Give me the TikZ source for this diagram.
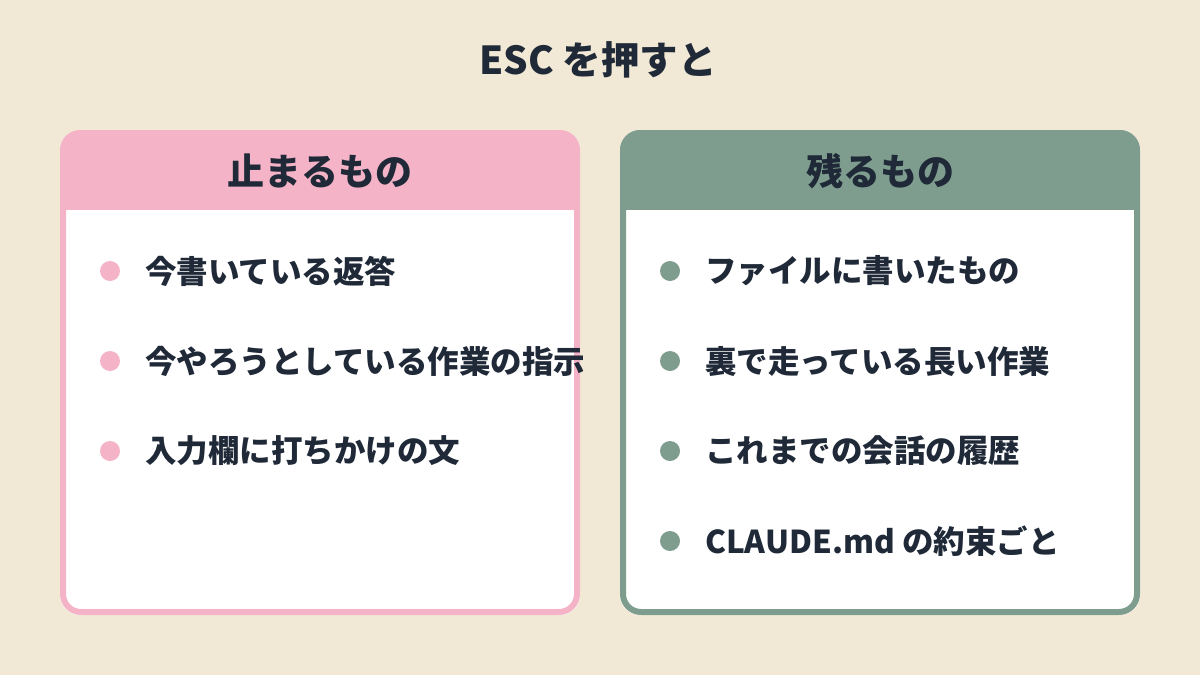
\documentclass[tikz,border=0pt]{standalone}
\usepackage{fontspec}
\setmainfont{Noto Sans CJK JP}
\usetikzlibrary{positioning}
\definecolor{bgcream}{HTML}{F1E9D5}
\definecolor{pinkc}{HTML}{F4B3C7}
\definecolor{greenc}{HTML}{7E9D8F}
\definecolor{inkc}{HTML}{1F2937}
\tikzset{
  item/.style={anchor=west,font=\fontsize{31.5}{31.5}\selectfont\bfseries,text=inkc,inner sep=0pt},
  dot/.style={circle,inner sep=0pt,minimum size=20pt},
  head/.style={font=\fontsize{37}{37}\selectfont\bfseries,text=inkc},
}
\begin{document}
\begin{tikzpicture}[x=1pt,y=-1pt]
  \useasboundingbox[fill=bgcream] (0,0) rectangle (1200,675);
  \node[font=\fontsize{38.5}{38.5}\selectfont\bfseries,text=inkc] (title) at (598,60) {ESC を押すと};

  % left box
  \begin{scope}
    \fill[white,rounded corners=20pt] (60,130) rectangle (580,615);
    \clip[rounded corners=20pt] (60,130) rectangle (580,615);
    \fill[pinkc] (60,130) rectangle (580,210);
  \end{scope}
  \draw[pinkc,line width=6pt,rounded corners=18pt] (63,133) rectangle (577,612);
  \node[head] (stopH) at (320,171) {止まるもの};

  % right box
  \begin{scope}
    \fill[white,rounded corners=20pt] (620,130) rectangle (1140,615);
    \clip[rounded corners=20pt] (620,130) rectangle (1140,615);
    \fill[greenc] (620,130) rectangle (1140,210);
  \end{scope}
  \draw[greenc,line width=6pt,rounded corners=18pt] (623,133) rectangle (1137,612);
  \node[head] (keepH) at (880,171) {残るもの};

  % items
  \foreach \t [count=\i] in {今書いている返答,今やろうとしている作業の指示,入力欄に打ちかけの文}
  {
    \node[dot,fill=pinkc] (sd\i) at (110,181+90*\i) {};
    \node[item] (st\i) at (145,181+90*\i) {\t};
  }
  \foreach \t [count=\i] in {ファイルに書いたもの,裏で走っている長い作業,これまでの会話の履歴,CLAUDE.md の約束ごと}
  {
    \node[dot,fill=greenc] (kd\i) at (670,181+90*\i) {};
    \node[item] (kt\i) at (705,181+90*\i) {\t};
  }
\end{tikzpicture}
\end{document}
